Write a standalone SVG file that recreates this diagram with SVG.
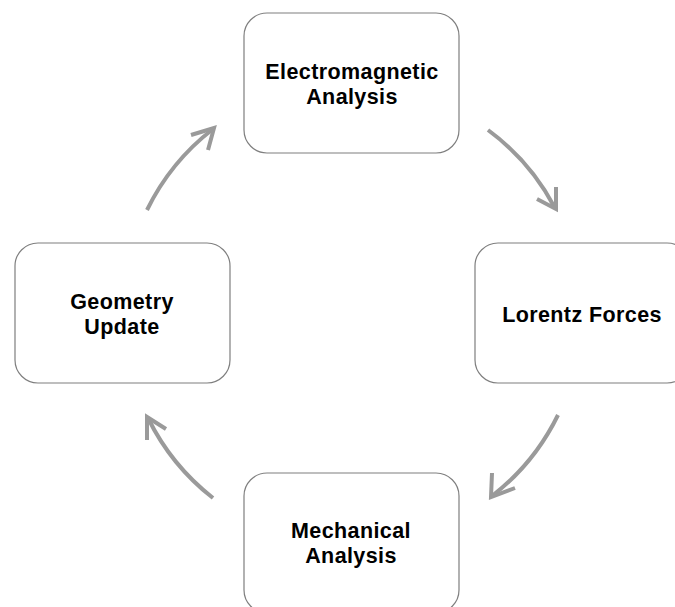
<svg xmlns="http://www.w3.org/2000/svg" width="675" height="607" viewBox="0 0 675 607">
<style>
.box{fill:#ffffff;stroke:#7f7f7f;stroke-width:1.2}
.lbl{font-family:"Liberation Sans",Arial,sans-serif;font-weight:bold;font-size:21.5px;fill:#000000;text-anchor:middle;letter-spacing:0.4px}
.arc{fill:none;stroke:#9a9a9a;stroke-width:4;stroke-linecap:butt}
.head{fill:none;stroke:#9a9a9a;stroke-width:4;stroke-linejoin:miter;stroke-linecap:butt}
</style>
<rect width="675" height="607" fill="#ffffff"/>
<g id="connectors">
<g id="arrow-em-to-lorentz">
<path class="arc" d="M488,130 A230,230 0 0 1 555,208"/>
<path class="head" d="M556,187 L556,209 L537,199"/>
</g>
<g id="arrow-lorentz-to-mech">
<path class="arc" d="M558,415 A230,230 0 0 1 492,496"/>
<path class="head" d="M492,473 L491,497 L515,488"/>
</g>
<g id="arrow-mech-to-geom">
<path class="arc" d="M213,498 A230,230 0 0 1 148,418"/>
<path class="head" d="M147,440 L147,417 L166,429"/>
</g>
<g id="arrow-geom-to-em">
<path class="arc" d="M147,210 A230,230 0 0 1 213,129"/>
<path class="head" d="M191,135 L214,128 L208,150"/>
</g>
</g>
<g id="node-em">
<rect class="box" x="244" y="13" width="215" height="140" rx="23" ry="23"/>
<text class="lbl" x="352" y="79">Electromagnetic</text>
<text class="lbl" x="352" y="104">Analysis</text>
</g>
<g id="node-lorentz">
<rect class="box" x="475" y="243" width="215" height="140" rx="23" ry="23"/>
<text class="lbl" x="582" y="322">Lorentz Forces</text>
</g>
<g id="node-mech">
<rect class="box" x="244" y="473" width="215" height="140" rx="23" ry="23"/>
<text class="lbl" x="351" y="538">Mechanical</text>
<text class="lbl" x="351" y="563">Analysis</text>
</g>
<g id="node-geom">
<rect class="box" x="15" y="243" width="215" height="140" rx="23" ry="23"/>
<text class="lbl" x="122" y="309">Geometry</text>
<text class="lbl" x="122" y="334">Update</text>
</g>
</svg>
